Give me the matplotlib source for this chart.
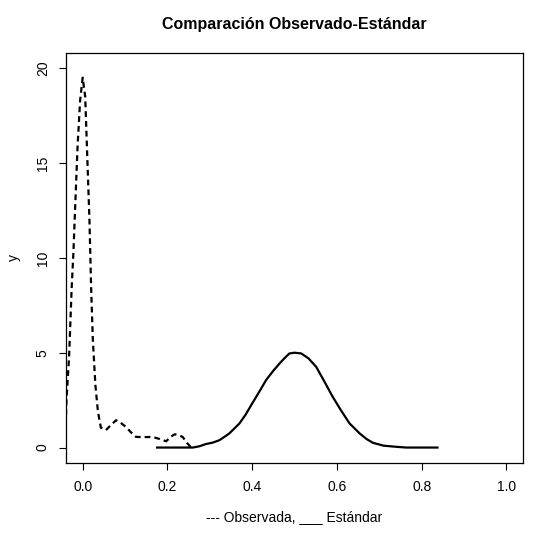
import matplotlib
matplotlib.use('Agg')
import matplotlib.pyplot as plt

obs_x = [-0.040, -0.038, -0.032, -0.026, -0.022, -0.018, -0.012, -0.006, 0.000,
         0.006, 0.010, 0.016, 0.020, 0.024, 0.030, 0.036, 0.043, 0.055, 0.067,
         0.079, 0.090, 0.102, 0.114, 0.126, 0.145, 0.165, 0.182, 0.197, 0.207,
         0.217, 0.227, 0.236, 0.246, 0.256]
obs_y = [1.2, 2.6, 4.8, 8.4, 10.2, 12.5, 15.9, 18.3, 19.5,
         18.5, 15.9, 12.0, 8.4, 5.7, 3.3, 1.9, 1.05, 0.92, 1.2,
         1.44, 1.3, 1.09, 0.8, 0.56, 0.55, 0.56, 0.45, 0.33, 0.55,
         0.70, 0.65, 0.56, 0.25, 0.0]

# Standard density (solid)
std_x = [0.173, 0.22, 0.26, 0.276, 0.29, 0.307, 0.323, 0.346, 0.37, 0.385, 0.40,
         0.417, 0.433, 0.45, 0.465, 0.478, 0.488, 0.500, 0.516, 0.533, 0.551,
         0.57, 0.59, 0.61, 0.63, 0.654, 0.67, 0.685, 0.71, 0.74, 0.764, 0.80, 0.84]
std_y = [0.0, 0.0, 0.0, 0.07, 0.18, 0.26, 0.39, 0.74, 1.27, 1.75, 2.32,
         2.95, 3.56, 4.05, 4.44, 4.75, 4.96, 5.0, 4.96, 4.7, 4.26,
         3.5, 2.68, 1.95, 1.27, 0.74, 0.45, 0.25, 0.10, 0.04, 0.0, 0.0, 0.0]

x_ticks = [0.0, 0.2, 0.4, 0.6, 0.8, 1.0]
y_ticks = [0, 5, 10, 15, 20]

plt.rcParams['font.family'] = ['Liberation Sans', 'DejaVu Sans']

fig = plt.figure(figsize=(5.4, 5.36), dpi=100)
ax = fig.add_axes([0.1217, 0.1367, 0.8474, 0.7644])

ax.plot(obs_x, obs_y, color='black', linewidth=1.6, dashes=(2.6, 1.8))
ax.plot(std_x, std_y, color='black', linewidth=1.6, solid_capstyle='butt')

ax.set_xlim(-0.04, 1.04)
ax.set_ylim(-0.8, 20.8)
ax.set_xticks(x_ticks)
ax.set_xticklabels([f"{v:.1f}" for v in x_ticks])
ax.set_yticks(y_ticks)
ax.set_yticklabels([str(v) for v in y_ticks], rotation=90, va='center')
ax.tick_params(direction='out', length=5, width=0.8, labelsize=10)
ax.tick_params(axis='x', pad=7.7)
ax.tick_params(axis='y', pad=6.4)

for s in ax.spines.values():
    s.set_linewidth(0.9)

ax.set_title("Comparación Observado-Estándar", fontsize=11.5, fontweight='bold', pad=17)
ax.set_xlabel("--- Observada, ___ Estándar", fontsize=10, labelpad=11)
ax.set_ylabel("y", fontsize=10, labelpad=11)

fig.savefig("out.png", dpi=100)
